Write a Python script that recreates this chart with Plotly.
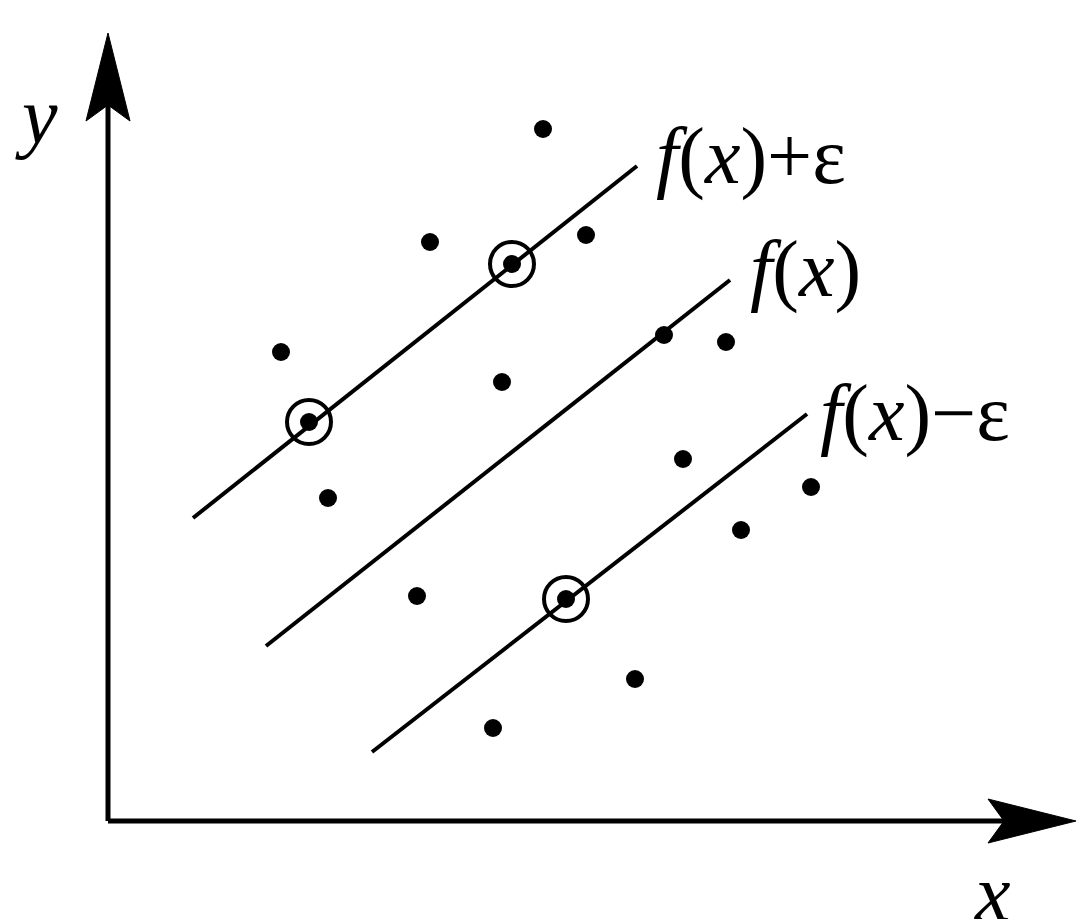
import plotly.graph_objects as go

# sample points (x, y) in chart units, origin at the axes corner
pts_x = [435, 322, 478, 173, 394, 556, 618, 220, 575, 703, 633, 309, 527, 385]
pts_y = [692, 579, 586, 469, 439, 486, 479, 323, 362, 334, 291, 225, 142, 93]
# support vectors (circled)
sv_x = [404, 201, 458]
sv_y = [557, 399, 222]

# the three regression lines: f(x)+eps, f(x), f(x)-eps
lines = {
    "upper": ([85, 529], [303, 655]),
    "mid": ([158, 622], [175, 541]),
    "lower": ([264, 699], [69, 407]),
}

labels = [
    (546, 665, "<i>f</i>(<i>x</i>)+ε"),
    (640, 552, "<i>f</i>(<i>x</i>)"),
    (710, 408, "<i>f</i>(<i>x</i>)−ε"),
]

fig = go.Figure()
for lx, ly in lines.values():
    fig.add_trace(go.Scatter(x=lx, y=ly, mode="lines",
                             line=dict(color="black", width=4)))
fig.add_trace(go.Scatter(x=pts_x + sv_x, y=pts_y + sv_y, mode="markers",
                         marker=dict(color="black", size=18)))
fig.add_trace(go.Scatter(x=sv_x, y=sv_y, mode="markers",
                         marker=dict(color="rgba(0,0,0,0)", size=44,
                                     line=dict(color="black", width=4))))

# axes with arrowheads
fig.add_shape(type="line", x0=0, y0=0, x1=0, y1=720, line=dict(color="black", width=5))
fig.add_shape(type="line", x0=0, y0=0, x1=900, y1=0, line=dict(color="black", width=5))
fig.add_shape(type="path", path="M -22,700 L 0,788 L 22,700 L 0,716 Z",
              fillcolor="black", line=dict(color="black", width=1))
fig.add_shape(type="path", path="M 880,-22 L 968,0 L 880,22 L 896,0 Z",
              fillcolor="black", line=dict(color="black", width=1))

fig.add_annotation(x=-72, y=705, text="<i>y</i>", showarrow=False,
                   font=dict(family="Liberation Serif", size=80, color="black"))
fig.add_annotation(x=884, y=-72, text="<i>x</i>", showarrow=False,
                   font=dict(family="Liberation Serif", size=80, color="black"))
for lx, ly, t in labels:
    fig.add_annotation(x=lx, y=ly, text=t, showarrow=False, xanchor="left",
                       font=dict(family="Liberation Serif", size=80, color="black"))

fig.update_layout(
    width=1092, height=919, showlegend=False,
    margin=dict(l=0, r=0, t=0, b=0),
    plot_bgcolor="white", paper_bgcolor="white",
    xaxis=dict(range=[-100, 992], visible=False),
    yaxis=dict(range=[-106, 813], visible=False),
)
fig.write_html("out.html")
